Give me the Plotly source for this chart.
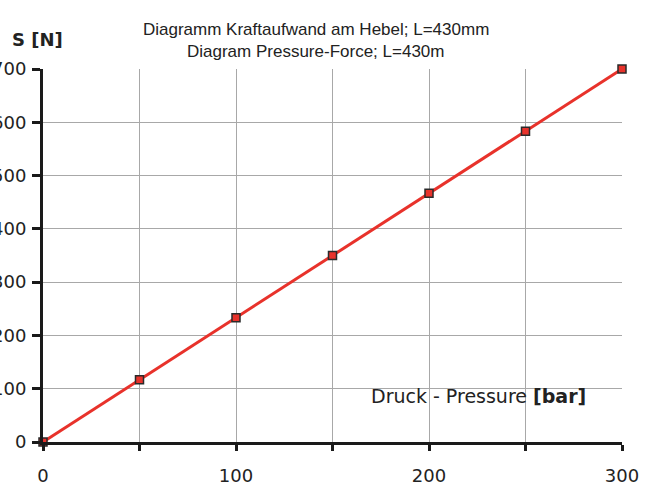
import plotly.graph_objects as go

pressure = [0, 50, 100, 150, 200, 250, 300]
force = [0, 116.7, 233.3, 350, 466.7, 583.3, 700]

x_ticks = [0, 50, 100, 150, 200, 250, 300]
x_labels = ["0", "", "100", "", "200", "", "300"]
y_ticks = [0, 100, 200, 300, 400, 500, 600, 700]
y_labels = ["0", "100", "200", "300", "400", "500", "600", "700"]

title_de = "Diagramm Kraftaufwand am Hebel; L=430mm"
title_en = "Diagram Pressure-Force; L=430m"
x_title = "Druck - Pressure <b>[bar]</b>"
y_title = "<b>S [N]</b>"

red = "#e8322b"
sans = "DejaVu Sans, Noto Sans, sans-serif"
tick_font = dict(family=sans, size=18, color="#222")

W, H = 654, 484
L, R, T, B = 43, 32, 69, 42

fig = go.Figure()
fig.add_trace(go.Scatter(
    x=pressure, y=force, mode="lines+markers",
    line=dict(color=red, width=3),
    marker=dict(symbol="square", size=8, color=red, line=dict(color="#2a2a2a", width=1.5)),
    showlegend=False, cliponaxis=False,
))

fig.update_layout(
    width=W, height=H,
    margin=dict(l=L, r=R, t=T, b=B, autoexpand=False),
    paper_bgcolor="white", plot_bgcolor="white",
    xaxis=dict(
        range=[0, 300], tickvals=x_ticks, ticktext=x_labels,
        showgrid=True, gridcolor="#a8a8a8", gridwidth=1,
        showline=True, linecolor="#1a1a1a", linewidth=3,
        ticks="outside", ticklen=6, tickwidth=3, tickcolor="#1a1a1a",
        tickfont=tick_font, ticklabelstandoff=9, zeroline=False, automargin=False,
    ),
    yaxis=dict(
        range=[0, 700], tickvals=y_ticks, ticktext=y_labels,
        showgrid=True, gridcolor="#a8a8a8", gridwidth=1,
        showline=True, linecolor="#1a1a1a", linewidth=3,
        ticks="outside", ticklen=8, tickwidth=3, tickcolor="#1a1a1a",
        tickfont=tick_font, ticklabelstandoff=2, zeroline=False, automargin=False,
    ),
)

pw, ph = W - L - R, H - T - B
x0, y0 = L, H - B  # window pixel position of the plot origin


def ann(text, px, py, font, xanchor="center"):
    fig.add_annotation(text=text, x=(px - x0) / pw, y=(y0 - py) / ph,
                       xref="paper", yref="paper", showarrow=False,
                       xanchor=xanchor, font=font)


title_font = dict(family="Liberation Sans, Arial, sans-serif", size=17, color="#222")
ann(title_de, 316, 18, title_font)
ann(title_en, 315, 40, title_font)
ann(y_title, 37, 27, dict(family=sans, size=18, color="#222"))
ann(x_title, 588, 409, dict(family=sans, size=19, color="#222"), xanchor="right")

fig.write_html("out.html", config={"displayModeBar": False},
               post_script="document.body.style.margin='0';")
